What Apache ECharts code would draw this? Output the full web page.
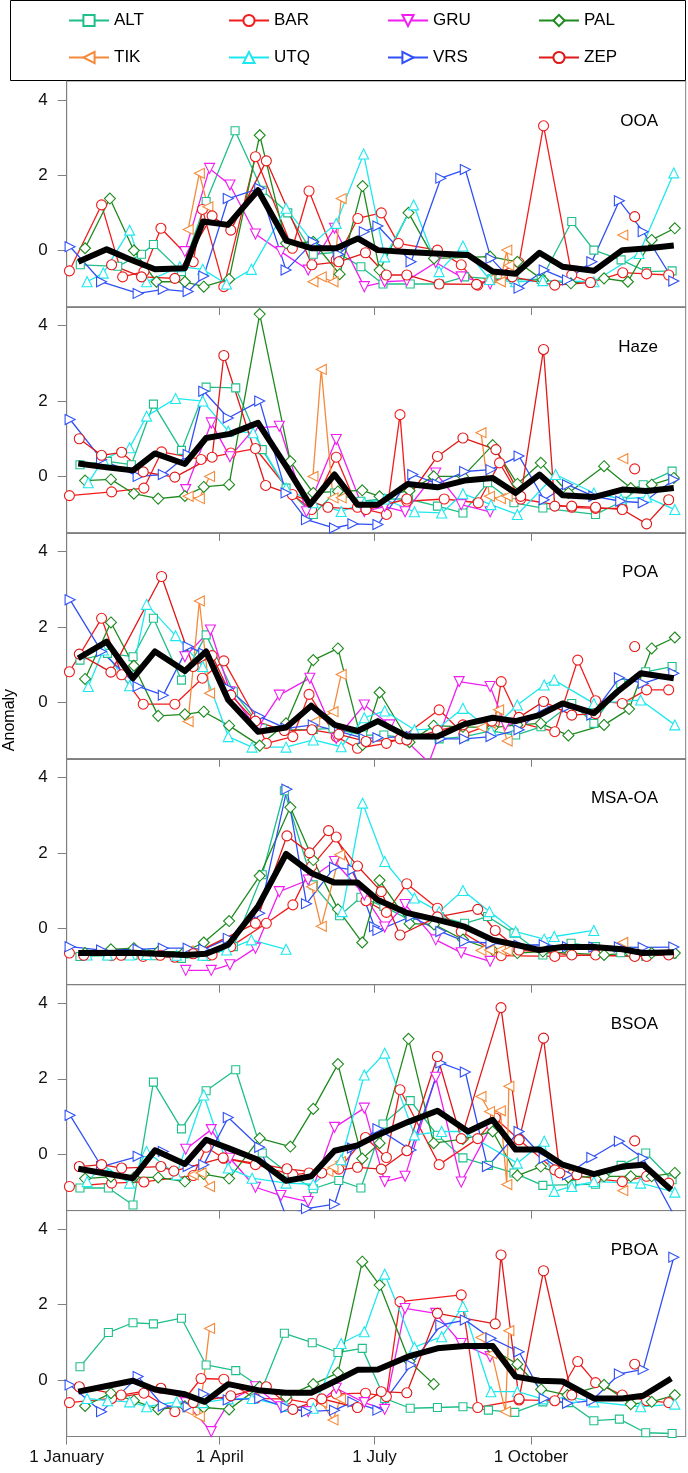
<!DOCTYPE html>
<html><head><meta charset="utf-8">
<script src="https://cdn.jsdelivr.net/npm/echarts@6/dist/echarts.min.js"></script>
<style>html,body{margin:0;padding:0;background:#fff}#c{width:688px;height:1473px}</style>
</head><body><div id="c"></div>
<script>
// x = day of year (0 = 1 January), y = anomaly. null = gap in a series.
const TICK_DAYS = [0, 90, 181, 273];
const TICK_LABELS = ['1 January', '1 April', '1 July', '1 October'];
const Y_TICKS = [0, 2, 4];
const STATIONS = ['ALT','BAR','GRU','PAL','TIK','UTQ','VRS','ZEP'];
const PANEL_NAMES = ['OOA','Haze','POA','MSA-OA','BSOA','PBOA'];

// ---------- OOA ----------
const OOA_ALT = [[8,-0.38],[30,-0.42],[44,-0.1],[51,0.16],[67.5,-0.56],[82,1.3],[99,3.18],[115,1.6],[130,1.0],[145,-0.1],[159,-0.05],[173,-0.43],[186,-0.89],[202,-0.89],[219,-0.89],[234,-0.7],[250,-0.75],[263,-0.77],[279,-0.77],[297,0.77],[310,0.01],[326,-0.25],[341,-0.56],[356,-0.54]];
const OOA_BAR = [[1.6,-0.54],[20.5,1.21],[32.9,-0.7],[45.4,-0.56],[55.4,0.59],[74.4,-0.3],[79.8,1.09],[92.4,-0.96],[111,2.49],[132.7,0.06],[142.5,1.58],[158.5,-0.25],[171.2,0.85],[185,1.0],[195,0.19],[218,0.01],[232,-0.38],[241.7,-0.92],[266,-0.32],[280.4,3.31],[297,-0.65],[308,-0.85],[327,-0.59],[341,-0.62],[354,-0.65]];
const OOA_GRU = [[69.5,-0.03],[84,2.18],[96,1.74],[111,0.44],[126,-0.03],[142,-0.52],[157.5,0.59],[175,-0.96],[187,-0.83],[200,-0.8],[217,-0.32],[232,-0.7],[249,-0.89]];
const OOA_PAL = [[10.8,0.06],[25.4,1.38],[39.5,0.0],[52.8,-0.83],[69.5,-0.83],[80.6,-0.96],[95.5,-0.76],[113.5,3.06],[129,0.19],[145,0.23],[160.5,-0.63],[174,1.71],[184,-0.52],[201,1.0],[216,-0.21],[249,-0.16],[265,-0.3],[280,-0.78],[296.5,-0.87],[316,-0.74],[330,-0.83],[344,0.28],[357.6,0.59]];
const OOA_TIK = [[71.4,0.56],[78,2.05],[83,1.16],null,[144.8,-0.83],[149.7,-0.7],[156.6,-0.83],[161.4,1.38],null,[248.6,-0.77],[255,-0.83],[258.8,0.01],[260,-0.4],null,[327,0.41]];
const OOA_UTQ = [[12,-0.83],[21.5,-0.6],[37,0.54],[47,-0.83],[66.5,-0.43],[80,-0.5],[94,-0.89],[108.6,-0.5],[129,1.12],[145,0.2],[158.5,0.72],[174.6,2.56],[187,-0.17],[204,1.21],[219,-0.56],[233,0.12],[248.6,-0.77],[264,-0.83],[280,-0.8],[310,-0.83],[336.6,-0.08],[357,2.06]];
const OOA_VRS = [[2,0.1],[20.5,-0.83],[42,-1.14],[56.8,-1.03],[71.4,-1.09],[80.6,-0.68],[95,1.38],[113.5,1.65],[129,-0.52],[145,0.23],[160,-0.1],[175,0.5],[183,0.65],[202.5,-0.3],[220,1.92],[234.4,2.15],[249.5,-0.21],[266,-1.0],[280.8,-0.52],[294.5,-0.78],[308.8,-0.3],[325,1.32],[339,0.5],[357,-0.81]];
const OOA_ZEP = [[26.4,-0.38],[44,-0.7],[63.6,-0.74],[85.5,0.92],[96.5,0.54],[117.4,2.38],[144.2,-0.38],[160,-0.3],[175.7,-0.06],[188,-0.65],[200,-0.65],[219,-0.89],[241,-0.9],[262,-0.7],[287,-0.92],[308,-0.85],null,[334,0.9]];
const OOA_MEAN = [[6.8,-0.3],[23.5,0.03],[37,-0.23],[51.9,-0.5],[69.5,-0.47],[80.2,0.77],[94.9,0.68],[112.5,1.6],[129.2,0.26],[143.8,0.06],[158.5,0.06],[171.2,0.32],[183,0.01],[200,-0.04],[217,-0.08],[236,-0.12],[250.5,-0.56],[264,-0.62],[278,-0.06],[291.6,-0.43],[310,-0.54],[326.7,0.01],[342,0.06],[357,0.13]];

// ---------- Haze ----------
const HAZE_ALT = [[7.8,0.31],[24,0.4],[38,0.31],[51,1.92],[67.5,0.69],[82,2.37],[99.4,2.35],[115,0.71],[129,-0.31],[145,-1.01],[157.5,-0.44],[173,-0.66],[186,-0.6],[201,-0.6],[218,-0.79],[233,-0.97],[247.5,-0.17],[263,-0.7],[280,-0.84],[311,-1.01],[326.7,-0.66],[339,-0.22],[356,0.14]];
const HAZE_BAR = [[1.6,-0.51],[26.4,-0.41],[45.4,-0.31],[55.8,0.65],[79,0.45],[96.5,0.62],[111,0.74],[132.7,-0.48],[144,-0.88],[158.5,0.51],[171,-0.82],[188,-1.01],[196,1.64],[200,-0.66],[222,-0.6],[242,-0.7],[254.5,0.36],[267,-0.6],[297,-0.82],[311,-0.85],[326.7,-0.85],null,[334,0.2]];
const HAZE_GRU = [[70,-0.35],[85,1.42],[96,0.52],[110.6,1.29],[125,1.33],[141,-0.94],[158.5,0.98],[175,-0.93],[187,-0.8],[199,-0.94],[217,0.09],[232,-0.75],[249,-0.94]];
const HAZE_PAL = [[10.8,-0.11],[26,-0.08],[39.5,-0.46],[53.8,-0.59],[69.5,-0.52],[80.6,-0.28],[95.5,-0.22],[113.5,4.31],[131.5,0.4],[145,-0.44],[159.5,-0.4],[173.8,-0.37],[184,-0.53],[201.6,-0.38],[215.8,0.0],[233,0.0],[250.5,0.83],[265,-0.2],[278.8,0.36],[295,-0.44],[316,0.27],[331.7,-0.31],[344,-0.22],[357,-0.04]];
const HAZE_TIK = [[71.4,-0.53],[78,-0.59],[84,0.0],null,[144.8,0.0],[149.7,2.84],[156.6,-0.57],[161.4,-0.57],null,[243.6,1.16],[248.6,-0.53],[255,-0.59],[259,-0.53],null,[327,0.47]];
const HAZE_UTQ = [[12.7,-0.17],[21.5,0.45],[37,0.76],[47,1.6],[64,2.07],[80,2.0],[95,1.2],[109.6,1.16],[129,-0.31],[145,-0.7],[161.4,-0.93],[175,-0.7],[187,-0.6],[204.5,-0.94],[220.5,-0.97],[233,-0.46],[249.5,-0.75],[265,-1.01],[287.5,0.05],[310,-0.44],[326,-0.6],[341,-0.55],[357.6,-0.88]];
const HAZE_VRS = [[2,1.51],[20.5,0.45],[42,0.0],[56.8,0.05],[71.4,0.58],[80.6,2.26],[95,1.55],[113.5,2.0],[129,-0.44],[141,-1.15],[157.5,-1.37],[168.3,-1.26],[183,-1.28],[203.5,0.05],[218,-0.2],[234,0.13],[249.5,0.18],[266,0.54],[280.8,-0.62],[294.5,-0.22],[310,-0.53],[325.8,-0.66],[339,-0.7],[357,-0.08]];
const HAZE_ZEP = [[7.4,1.0],[20.5,0.56],[32.3,0.64],[45,0.12],[63.6,-0.02],[85.5,0.51],[92.4,3.21],[117,-0.24],[153.6,-0.82],[176,-0.88],[200,-0.6],[218,0.53],[233,1.02],[252.4,0.71],[267,-0.53],[280.4,3.37],[287,-0.79],[297,-0.79],[311,-0.82],[326.7,-0.88],[341,-1.26],[354,-0.62]];
const HAZE_MEAN = [[6.8,0.34],[23.5,0.24],[39,0.16],[51.9,0.61],[69.5,0.33],[82,1.02],[96,1.13],[112.5,1.42],[129,0.27],[143,-0.75],[157.5,0.05],[171,-0.75],[183,-0.75],[200.5,-0.2],[218,-0.29],[234,-0.11],[250.5,-0.04],[264,-0.44],[278,0.05],[291.6,-0.5],[310,-0.55],[326.7,-0.35],[341,-0.39],[357,-0.31]];

// ---------- POA ----------
const POA_ALT = [[7.8,1.12],[24,1.3],[39,1.21],[51,2.23],[67.5,0.59],[82,1.79],[98,0.28],[115,-0.69],[129,-0.73],[145,-0.72],[156.6,-0.69],[174,-0.87],[186.5,-0.87],[201.6,-0.96],[219,-0.97],[234,-0.91],[249.5,-0.76],[264,-0.87],[278.9,-0.65],[297,-0.03],[310,-0.56],[325.8,0.5],[340.5,0.81],[356,0.95]];
const POA_BAR = [[1.6,0.81],[20.5,2.23],[32.3,0.73],[45,-0.05],[63.6,-0.05],[79.8,0.64],[92.4,1.1],[111,-0.41],[117.4,-1.09],[133,-0.91],[142.5,0.21],[158.5,-0.91],[171,-1.22],[188,-1.09],[196,-0.97],[219,-0.2],[233.5,-0.85],[251.5,-0.55],[255.5,0.55],[267,-0.55],[287,-0.78],[300.5,1.12],[311,0.04],[326.7,-0.03],[341,0.33],[354,0.33]];
const POA_GRU = [[69.5,1.21],[84.5,1.92],[96,0.28],[112,-0.7],[125,0.19],[143,0.64],[158.5,-0.96],[175,-0.07],[190,-0.6],[213,-1.6],[230.8,0.55],[249,0.42],[258,-0.6],[266,-0.55]];
const POA_PAL = [[10.8,0.62],[26,2.12],[39.5,0.97],[53.8,-0.36],[69.5,-0.32],[80.6,-0.25],[95.5,-0.62],[113.5,-1.15],[129,-0.56],[145,1.12],[159.5,1.43],[174,-1.13],[184,0.26],[201.6,-1.06],[215.8,-0.62],[233,-0.65],[250.5,-0.67],[265,-0.6],[278.8,-0.56],[295,-0.88],[316,-0.6],[330.7,-0.18],[344,1.43],[357.6,1.72]];
const POA_TIK = [[71.4,-0.51],[78,2.69],[84,0.24],null,[145.8,-0.51],[156.6,-0.25],[161.4,0.74],null,[244,-0.67],[249,-0.55],[254,-0.2],[259,-1.03]];
const POA_UTQ = [[12.7,0.42],[21.5,1.39],[37,0.44],[47,2.6],[64,1.77],[80,0.95],[95,-0.91],[109,-1.19],[129,-1.19],[145,-1.0],[161.4,-1.18],[175,-0.41],[187,-0.23],[204.5,-0.73],[218,-0.7],[233,-0.16],[249.5,-0.75],[265,-0.07],[280.8,0.46],[286.7,0.59],[310,-0.03],[337.5,0.06],[357.6,-0.6]];
const POA_VRS = [[2,2.72],[20.5,1.35],[42,0.42],[56.8,0.19],[71.4,1.48],[80.6,1.3],[95,0.37],[113.5,-0.38],[129,-0.69],[145,-0.6],[160.5,-0.78],[175,-0.96],[183,-0.94],[202.5,-0.91],[220,-0.97],[234,-0.97],[249.5,-0.91],[266,-0.73],[280.8,-0.12],[294.5,-0.12],[308.8,-0.34],[325,0.65],[339,0.5],[357,0.77]];
const POA_ZEP = [[7.4,1.28],[26,0.8],[55.8,3.34],[74.4,0.95],[85.5,1.24],[96.5,0.19],[111,-0.5],[128,-0.75],[144.2,-0.73],[160,-0.85],[176,-1.04],[200,-1.0],[218,-0.75],[233,-0.6],[250,-0.5],[266,-0.4],[280.4,0.02],[297,-0.34],[311,-0.3],null,[334,1.48]];
const POA_MEAN = [[6.8,1.17],[23.5,1.61],[39,0.64],[51.9,1.35],[69.5,0.83],[82,1.35],[95,0.06],[112.5,-0.78],[129,-0.67],[143.8,-0.09],[157.5,-0.6],[171,-0.76],[183,-0.5],[200.6,-0.91],[218,-0.91],[233.9,-0.58],[250.5,-0.41],[264,-0.5],[278,-0.34],[291.6,-0.03],[310,-0.29],[323.8,0.28],[337.5,0.77],[357,0.64]];

// ---------- MSA-OA ----------
const MSA_ALT = [[7.8,-0.75],[24,-0.73],[39,-0.72],[51,-0.73],[67.5,-0.8],[82,-0.75],[98,-0.49],[115,1.42],[128,3.65],[145,1.15],[160.5,0.33],[173,0.82],[186.5,0.58],[201.6,0.22],[219,0.31],[234,0.13],[247.5,0.31],[263,-0.13],[280,-0.71],[296.6,-0.4],[311,-0.49],[325.8,-0.65],[340.5,-0.75],[356,-0.69]];
const MSA_BAR = [[1.6,-0.66],[26.4,-0.73],[45,-0.75],[63.6,-0.77],[85.5,-0.71],[96.5,-0.49],[117.4,0.13],[133,0.62],[144,1.64],[158.5,2.42],[176,0.73],[188,0.42],[200,1.18],[218,0.53],[232,-0.09],[255.5,-0.73],[287,-0.75],[311,-0.71],[341,-0.75]];
const MSA_GRU = [[70,-1.12],[85,-1.12],[96,-0.97],[111,-0.53],[125,0.97],[142,1.28],[157.5,1.77],[175,0.88],[187,0.03],[199,0.63],[217,-0.31],[232,-0.65],[249,-0.88]];
const MSA_PAL = [[10.8,-0.66],[26,-0.56],[39.5,-0.53],[53.8,-0.62],[69.5,-0.62],[80.6,-0.38],[95.5,0.19],[113.5,1.39],[131.5,3.21],[145,1.81],[159.5,0.5],[173.8,-0.38],[184,1.27],[201.6,0.12],[216,0.1],[233,-0.3],[250.5,-0.58],[265,-0.66],[280,-0.62],[296,-0.66],[316,-0.71],[331.7,-0.66],[344,-0.66],[357.6,-0.66]];
const MSA_TIK = [[71.4,-0.6],[78,-0.62],null,[144,1.1],[149.7,0.05],[160.5,1.95],null,[243.6,-0.59],[248.6,-0.58],[255,-0.58],[259,-0.6],null,[327,-0.38]];
const MSA_UTQ = [[12,-0.71],[24,-0.71],[37,-0.71],[47,-0.7],[64.6,-0.72],[80,-0.72],[94,-0.58],[108.6,-0.31],[129,-0.56],null,[162,0.44],[174,3.32],[187,1.77],[204.5,0.8],[219,0.44],[233,1.0],[248.6,0.44],[264,-0.09],[280.8,-0.29],[286.7,-0.22],[310,-0.06]];
const MSA_VRS = [[2,-0.49],[20.5,-0.58],[42,-0.56],[56.8,-0.53],[71.4,-0.53],[80.6,-0.56],[95,-0.27],[113.5,0.4],[129.5,3.69],[141,0.65],[157.5,1.62],[168.3,1.55],[181,0.04],[183,-0.06],[202.5,0.31],[220,-0.09],[234,-0.35],[249.5,-0.4],[266,-0.45],[280.8,-0.44],[294.5,-0.49],[310,-0.5],[325,-0.5],[339,-0.51],[357,-0.5]];
const MSA_ZEP = [[10,-0.72],[32,-0.72],[55,-0.72],[74.4,-0.68],[111,0.13],[129.5,2.45],[142.8,2.0],[154,2.59],[171,1.65],[185,0.97],[196,-0.18],[218,0.3],[241.7,0.5],[252,-0.06],[266,-0.58],[297,-0.71],[334,-0.75],[354,-0.71]];
const MSA_MEAN = [[6.8,-0.66],[39,-0.65],[69.5,-0.71],[82,-0.68],[95,-0.44],[112.5,0.58],[129,1.97],[144,1.46],[157.5,1.21],[171,1.21],[183,0.75],[200.6,0.4],[218,0.22],[234,0.04],[250.5,-0.31],[264,-0.44],[278,-0.58],[291.6,-0.5],[310,-0.5],[326.7,-0.56],[339,-0.66],[357,-0.64]];

// ---------- BSOA ----------
const BSOA_ALT = [[7.8,-0.9],[24.5,-0.9],[39,-1.35],[51,1.91],[67.5,0.67],[82,1.68],[99.4,2.24],[115,0.03],[130,-0.5],[145,-0.92],[160,-0.7],[173,-0.9],[186,0.8],[202,1.42],[218,0.5],[233,-0.1],[248,-0.3],[263,-0.5],[280,-0.83],[297,-0.81],[311,-0.8],[326,-0.3],[340.5,0.03],[356,-0.68]];
const BSOA_BAR = [[1.6,-0.86],[26.4,-0.77],[45.4,-0.74],[74.4,-0.57],[82,0.18],[92.4,-0.11],[111,-0.28],[133,-0.55],[142.5,-0.5],[160,-0.4],[175.7,0.44],[188,-0.09],[196,1.71],[219,-0.28],[241.7,0.41],[252,0.96],[266,0.38],[287,-0.42],[297,-0.55],[311,-0.65],[326.7,-0.73],[341,-0.59],[354,-0.77]];
const BSOA_GRU = [[70,0.13],[85,0.65],[96,-0.11],[111,-0.88],[126,-1.1],[142,-1.26],[157.5,0.71],[175,1.22],[187,-0.73],[199,-0.59],[217,2.04],[232,-0.74],[249,0.69]];
const BSOA_PAL = [[10.8,-0.65],[26,-0.6],[39.5,-0.62],[53.8,-0.62],[69.5,-0.73],[80.6,-0.53],[95.5,-0.65],[113.5,0.42],[131.5,0.2],[145,1.2],[159.5,2.39],[173.8,-0.12],[184,0.29],[201,3.06],[215.8,0.29],[233,0.4],[250.5,0.6],[265,-0.57],[278.8,-0.33],[295,-0.62],[316,-0.59],[331.7,-0.59],[344,-0.59],[357.6,-0.5]];
const BSOA_TIK = [[74.4,-0.55],[79,-0.5],[84,-0.86],null,[153.6,-0.46],[156.6,-0.35],[161,-0.2],null,[243.6,1.53],[248.6,1.13],[255,1.15],[258.8,-0.81],[260,1.8],null,[327,-0.97]];
const BSOA_UTQ = [[12,-0.73],[21.5,-0.3],[37,-0.77],[47,0.07],[64.6,-0.55],[80.6,1.57],[95,-0.37],[109,-0.64],[129,-0.77],[145,-0.8],[161.4,-0.15],[175,2.1],[187,2.68],[204.5,0.51],[220.5,0.6],[233,0.6],[265,-0.24],[280.8,0.34],[286.7,-0.99],[297,-0.86],[310,-0.73],[337.5,-0.77],[357.6,-1.01]];
const BSOA_VRS = [[2,1.03],[20.5,-0.33],[42,-0.06],[56.8,0.07],[71.4,-0.33],[80.6,-0.28],[95,0.97],[113.5,0.18],[129,-1.65],[141,-1.45],[157.5,-1.33],[168,0.16],[183,0.67],[202.5,0.11],[220,2.42],[234.4,2.18],[247.4,-0.33],[266,0.6],[280.8,-0.11],[294.5,-0.55],[308.8,-0.09],[325,0.34],[339,-0.11],[358,-1.7]];
const BSOA_ZEP = [[7.4,-0.33],[20.5,-0.28],[32.3,-0.37],[55.4,-0.33],[63,-0.45],[92,-0.1],[129.5,-0.39],[150,-0.5],[171,-0.35],[185,-0.4],[200,0.09],[218,2.59],[232,0.41],[255.4,3.89],[266,0.38],[280.4,3.08],[290,-0.5],[300,-0.55],null,[334,0.35]];
const BSOA_MEAN = [[6.8,-0.39],[39,-0.64],[51.9,0.1],[69.5,-0.26],[82,0.38],[95,0.16],[112.5,-0.15],[129,-0.71],[143.8,-0.59],[157.5,0.09],[171,0.23],[183,0.51],[200.6,0.85],[218,1.15],[236,0.6],[250.5,0.91],[264,0.12],[278,0.12],[291.6,-0.28],[310,-0.53],[326.7,-0.33],[339,-0.28],[355.5,-0.95]];

// ---------- PBOA ----------
const PBOA_ALT = [[7.8,0.35],[24.5,1.26],[39,1.52],[51,1.49],[67.5,1.64],[82,0.4],[99.4,0.25],[115,-0.22],[128,1.24],[144.4,0.99],[159.5,0.73],[173.8,0.84],[187,-0.49],[202,-0.75],[218,-0.73],[233,-0.71],[248,-0.8],[263.5,-0.86],[280,-0.58],[295,-0.6],[310,-1.08],[325,-1.04],[340.5,-1.4],[356,-1.42]];
const PBOA_BAR = [[1.6,-0.6],[26.4,-0.49],[45.4,-0.35],[63.6,-0.84],[79,0.04],[92.4,0.02],[111,-0.49],[129.5,-0.51],[144.2,-0.62],[158.5,-0.37],[175.7,-0.35],[188,-0.44],[196,2.08],[232,2.26],[241.7,-0.73],[266,-0.53],[287,-0.55],[300.5,0.49],[311,-0.07],[326.7,-0.4],[341,-0.55],[354,-0.6]];
const PBOA_GRU = [[70,-0.6],[85,-1.37],[96,-0.55],[111,-0.18],[126,-0.71],[142,-0.84],[158.5,-0.22],[175,-0.6],[187,-0.78],[199,1.9],[217,1.77],[232,0.97],[249,0.62]];
const PBOA_PAL = [[10.8,-0.69],[26,-0.35],[39.5,-0.55],[53.8,-0.78],[69.5,-0.7],[80.6,-0.73],[95.5,-0.78],[113.5,-0.18],[129,-0.45],[145,-0.11],[159.5,0.19],[173.8,3.14],[184,2.52],[201.6,0.49],[215.8,-0.11],null,[250.5,0.81],[265,0.42],[279,-0.25],[294.5,-0.4],[316,-0.13],[331.7,-0.64],[344,-0.58],[357.6,-0.4]];
const PBOA_TIK = [[71.4,-0.8],[78,-0.97],[84,1.37],null,[150,-0.6],[156.6,-1.06],[161,-0.5],null,[243.6,1.13],[250,0.7],[258,-0.84],[260,1.31]];
const PBOA_UTQ = [[12,-0.49],[24,-0.55],[37,-0.58],[47,-0.71],[64.6,-0.58],[80,-0.6],[95,-0.5],[109,-0.49],[129,-0.7],[145,-0.75],[161.4,0.97],[175,1.28],[187,2.81],[204.5,0.87],[220.5,1.15],[233,1.95],[249.5,-0.31],[265,-0.31],[280,-0.5],[297,-0.46],[310,-0.58],[337.5,-0.71],[357.6,-0.64]];
const PBOA_VRS = [[2,-0.13],[20.5,-0.84],[42,0.09],[56.8,-0.69],[71.4,-0.71],[80.6,-0.37],[95,-0.53],[113.5,-0.49],[129,-0.73],[141,-0.84],[157.5,-0.8],[168.3,-0.58],[183,-0.8],[202.5,0.4],[220,1.46],[234.4,1.59],[249.5,1.11],[266,0.75],[280.8,-0.49],[294.5,-0.62],[308.8,-0.55],[325,0.16],[339,0.28],[357,3.26]];
const PBOA_ZEP = [[7.4,-0.18],[32,-0.4],[55.4,-0.22],[74.4,-0.6],[96.5,-0.42],[117.4,-0.18],[133,-0.78],[150,-0.5],[171,-0.73],[185,-0.31],[200,-0.34],[218,1.77],[252,1.49],[255.4,3.32],[266,-0.5],[280.4,2.9],[297,-0.4],null,[334,0.42]];
const PBOA_MEAN = [[6.8,-0.31],[23.5,-0.16],[39,-0.02],[51.9,-0.25],[69.5,-0.38],[81.2,-0.58],[95,-0.11],[112.5,-0.27],[129,-0.34],[143.8,-0.34],[157.5,-0.04],[171,0.27],[183,0.28],[200.6,0.62],[218,0.84],[233.9,0.9],[250.5,0.9],[264,0.09],[278,-0.02],[291.6,-0.04],[310,-0.49],[326.7,-0.49],[339,-0.42],[355.5,0.04]];

const PANEL_DATA = [
  {ALT:OOA_ALT,BAR:OOA_BAR,GRU:OOA_GRU,PAL:OOA_PAL,TIK:OOA_TIK,UTQ:OOA_UTQ,VRS:OOA_VRS,ZEP:OOA_ZEP,MEAN:OOA_MEAN},
  {ALT:HAZE_ALT,BAR:HAZE_BAR,GRU:HAZE_GRU,PAL:HAZE_PAL,TIK:HAZE_TIK,UTQ:HAZE_UTQ,VRS:HAZE_VRS,ZEP:HAZE_ZEP,MEAN:HAZE_MEAN},
  {ALT:POA_ALT,BAR:POA_BAR,GRU:POA_GRU,PAL:POA_PAL,TIK:POA_TIK,UTQ:POA_UTQ,VRS:POA_VRS,ZEP:POA_ZEP,MEAN:POA_MEAN},
  {ALT:MSA_ALT,BAR:MSA_BAR,GRU:MSA_GRU,PAL:MSA_PAL,TIK:MSA_TIK,UTQ:MSA_UTQ,VRS:MSA_VRS,ZEP:MSA_ZEP,MEAN:MSA_MEAN},
  {ALT:BSOA_ALT,BAR:BSOA_BAR,GRU:BSOA_GRU,PAL:BSOA_PAL,TIK:BSOA_TIK,UTQ:BSOA_UTQ,VRS:BSOA_VRS,ZEP:BSOA_ZEP,MEAN:BSOA_MEAN},
  {ALT:PBOA_ALT,BAR:PBOA_BAR,GRU:PBOA_GRU,PAL:PBOA_PAL,TIK:PBOA_TIK,UTQ:PBOA_UTQ,VRS:PBOA_VRS,ZEP:PBOA_ZEP,MEAN:PBOA_MEAN}
];

// ---------- styles ----------
const FONT = '"Liberation Sans", Arial, Helvetica, sans-serif';
const COLORS = {ALT:'#1fbf8a', BAR:'#f21c1c', GRU:'#f01ef0', PAL:'#1f8a1f', TIK:'#f58a3a', UTQ:'#1ee8ee', VRS:'#3050f5', ZEP:'#e01818'};
const SYMBOLS = {
  ALT:['rect',8], BAR:['circle',10], GRU:['path://M0,0L10,0L5,9Z',10], PAL:['diamond',11],
  TIK:['path://M9,0L9,10L0,5Z',10], UTQ:['triangle',10], VRS:['path://M0,0L9,5L0,10Z',10], ZEP:['circle',10]
};
const GRID_LEFT = 66.7, GRID_W = 619, GRID_TOP0 = 81, GRID_STEP = 225.9, GRID_H = 226;

function segments(arr){
  const out=[]; let cur=[];
  arr.forEach(p=>{ if(p===null){ if(cur.length) out.push(cur); cur=[]; } else cur.push(p); });
  if(cur.length) out.push(cur);
  return out;
}

const grids=[], xAxes=[], yAxes=[], series=[], graphics=[];
PANEL_DATA.forEach((pd,i)=>{
  const top = GRID_TOP0 + GRID_STEP*i;
  grids.push({left:GRID_LEFT, top:top, width:GRID_W, height:GRID_H, show:true, borderColor:'#7f7f7f', borderWidth:1, backgroundColor:'transparent'});
  xAxes.push({gridIndex:i, type:'value', min:0, max:364,
    axisLine:{show:true, onZero:false, lineStyle:{color:'#7f7f7f', width:1}},
    axisTick:{show:true, inside:false, length:8, customValues:TICK_DAYS, lineStyle:{color:'#7f7f7f'}},
    axisLabel:{show:i===PANEL_DATA.length-1, customValues:TICK_DAYS, margin:12, fontSize:17, color:'#111', fontFamily:FONT,
      formatter:(v)=>{const k=TICK_DAYS.indexOf(v); return k>=0?TICK_LABELS[k]:'';}},
    splitLine:{show:false}});
  yAxes.push({gridIndex:i, type:'value', min:-1.5, max:4.5,
    axisLine:{show:true, onZero:false, lineStyle:{color:'#7f7f7f', width:1}},
    axisTick:{show:true, inside:false, length:9, customValues:Y_TICKS, lineStyle:{color:'#7f7f7f'}},
    axisLabel:{show:true, customValues:Y_TICKS, margin:19, fontSize:17, color:'#111', fontFamily:FONT},
    splitLine:{show:false}});
  STATIONS.forEach(st=>{
    const c = COLORS[st], sy = SYMBOLS[st];
    segments(pd[st]).forEach(seg=>{
      series.push({type:'line', name:st, xAxisIndex:i, yAxisIndex:i, data:seg,
        symbol:sy[0], symbolSize:sy[1], showSymbol:true, clip:true, z:2,
        lineStyle:{color:c, width:1.3},
        itemStyle:{color:'#ffffff', borderColor:c, borderWidth:1.1},
        emphasis:{disabled:true}, animation:false});
    });
  });
  series.push({type:'line', name:'Mean', xAxisIndex:i, yAxisIndex:i, data:pd.MEAN,
    symbol:'none', clip:true, z:5, lineStyle:{color:'#000', width:6, join:'round', cap:'butt'},
    emphasis:{disabled:true}, animation:false});
  graphics.push({type:'text', x:658, y:top+40, z:10,
    style:{text:PANEL_NAMES[i], font:'17px '+FONT, fill:'#000', textAlign:'right', textVerticalAlign:'middle'}});
});

// legend box and y-axis title
graphics.push({type:'rect', z:0, shape:{x:10.5, y:0.5, width:675, height:80}, style:{fill:'none', stroke:'#000', lineWidth:1}});
graphics.push({type:'text', x:10, y:720, rotation:Math.PI/2, z:10,
  style:{text:'Anomaly', font:'16px '+FONT, fill:'#000', textAlign:'center', textVerticalAlign:'middle'}});

const LEG_X = [68, 228, 387, 538], LEG_Y = [12, 49];
const legends = STATIONS.map((st,k)=>({
  data:[st], left:LEG_X[k%4], top:LEG_Y[Math.floor(k/4)], orient:'horizontal', padding:0,
  itemWidth:40, itemHeight:14, itemGap:0, selectedMode:false,
  textStyle:{fontSize:17, color:'#000', fontFamily:FONT}
}));

const chart = echarts.init(document.getElementById('c'), null, {renderer:'canvas'});
chart.setOption({animation:false, backgroundColor:'#fff', grid:grids, xAxis:xAxes, yAxis:yAxes,
  series:series, legend:legends, graphic:graphics, tooltip:{show:false}});
</script></body></html>
